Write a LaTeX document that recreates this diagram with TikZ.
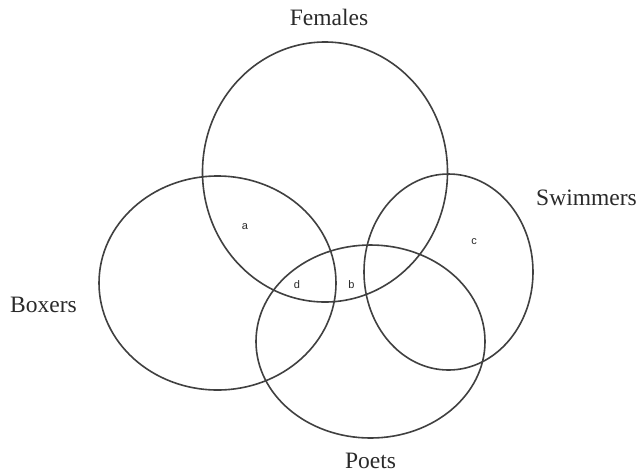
\documentclass[tikz,border=0pt]{standalone}
\usepackage{fontspec}
\setmainfont{Liberation Serif}
\newfontfamily\labfont{Liberation Sans}
\usetikzlibrary{shapes.geometric}
\definecolor{linegray}{HTML}{404040}
\definecolor{textgray}{HTML}{2A2A2A}
\tikzset{
  setshape/.style={ellipse, draw=linegray, line width=1.6pt, inner sep=0pt},
  setname/.style={anchor=base, inner sep=0pt, text=textgray, font=\fontsize{23.5}{26}\selectfont},
  region/.style={inner sep=0pt, text=textgray, font=\labfont\fontsize{11}{13}\selectfont}
}
\begin{document}
\begin{tikzpicture}[x=1pt,y=-1pt]
\useasboundingbox[fill=white] (0,0) rectangle (639,475);
\node[setshape, minimum width=245pt, minimum height=260pt] (females) at (325,172) {};
\node[setshape, minimum width=237pt, minimum height=214pt] (boxers) at (217.5,283) {};
\node[setshape, minimum width=169pt, minimum height=196pt] (swimmers) at (448.5,272) {};
\node[setshape, minimum width=229pt, minimum height=193pt] (poets) at (370.5,341.5) {};
\node[setname] (tf) at (329,25) {Females};
\node[setname] (tb) at (43.5,312) {Boxers};
\node[setname] (ts) at (586.5,205) {Swimmers};
\node[setname] (tp) at (370.5,468) {Poets};
\node[region] (ra) at (245,227) {a};
\node[region] (rb) at (351.5,285) {b};
\node[region] (rc) at (474,242) {c};
\node[region] (rd) at (297,285) {d};
\end{tikzpicture}
\end{document}
